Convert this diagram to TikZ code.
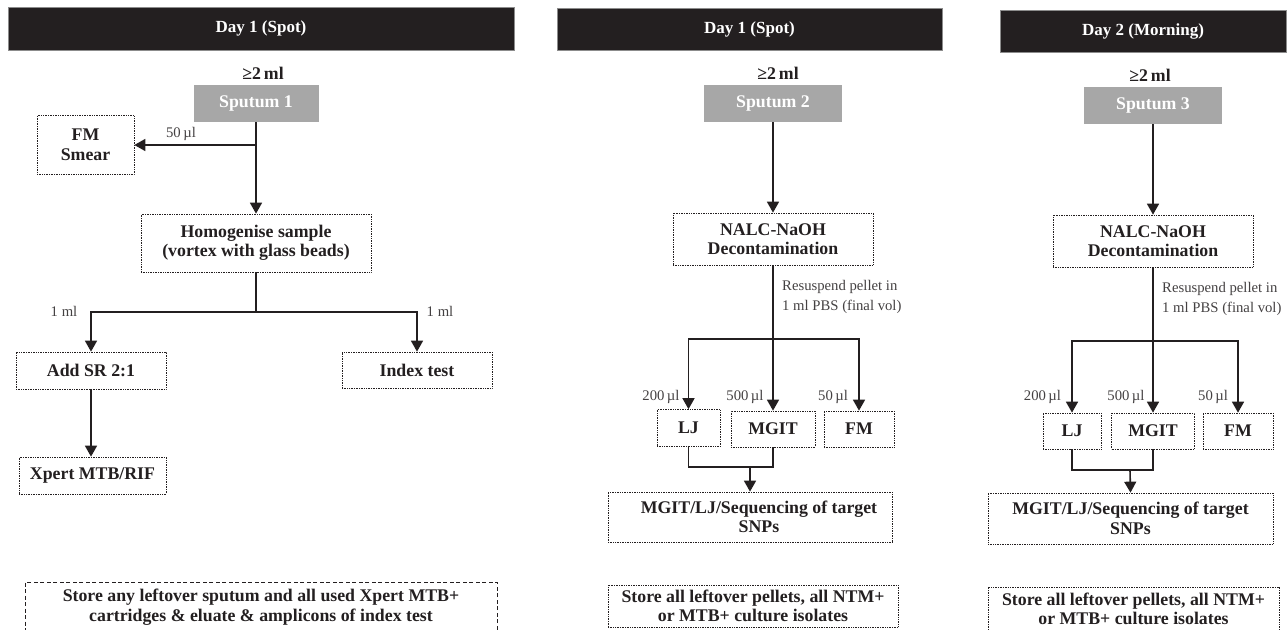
\documentclass[tikz,border=0pt]{standalone}
\usepackage{fontspec}
\setmainfont{Liberation Serif}
\usetikzlibrary{arrows.meta}
\definecolor{hdrcol}{HTML}{231F20}
\definecolor{sputcol}{HTML}{A7A7A7}
\definecolor{inkcol}{HTML}{231F20}
\newcommand\bxfont{\fontsize{17.8}{19.5}\selectfont\bfseries}
\newcommand\hdfont{\fontsize{17}{19}\selectfont\bfseries}
\newcommand\lbfont{\fontsize{14.7}{19.5}\selectfont}
\begin{document}
\begin{tikzpicture}[x=1pt,y=-1pt,
  box/.style={draw=inkcol, densely dotted, line width=0.7pt, align=center, font=\bxfont, text=inkcol, inner sep=0pt},
  dbox/.style={draw=inkcol, dash pattern=on 4pt off 2.5pt, line width=1pt, align=center, font=\bxfont, text=inkcol, inner sep=0pt},
  hdr/.style={fill=hdrcol, draw=black!45, line width=0.5pt, text=white, font=\hdfont, inner sep=0pt},
  sput/.style={fill=sputcol, text=white, font=\bxfont, inner sep=0pt},
  vol/.style={font=\bxfont, text=inkcol, inner sep=0pt},
  lbl/.style={font=\lbfont, text=inkcol!85, inner sep=0pt},
  conn/.style={draw=inkcol, line width=1.6pt},
  arr/.style={conn, -{Triangle[width=12pt,length=11pt]}}
]
\useasboundingbox (0,0) rectangle (1287,629);
\clip (0,0) rectangle (1287,629);

% ---------------- Panel 1 ----------------
\node[hdr, minimum width=506pt, minimum height=43pt] (h1) at (261,28.5) {Day 1 (Spot)};
\node[vol] (ge1) at (263,73) {≥2\,ml};
\node[sput, minimum width=125pt, minimum height=37pt] (sp1) at (256,103.5) {Sputum 1};
\node[box, minimum width=97pt, minimum height=59pt] (fm1) at (85.5,145) {FM\\Smear};
\node[box, minimum width=230pt, minimum height=58pt] (hom) at (256,243) {Homogenise sample\\(vortex with glass beads)};
\node[box, minimum width=150pt, minimum height=37pt] (add) at (91,370.5) {Add SR 2:1};
\node[box, minimum width=150pt, minimum height=36pt] (idx) at (417,370) {Index test};
\node[box, minimum width=147pt, minimum height=37pt] (xp) at (92.5,475.5) {Xpert MTB/RIF};
\node[dbox, minimum width=472pt, minimum height=50pt] (st1) at (261,607) {Store any leftover sputum and all used Xpert MTB+\\cartridges \& eluate \& amplicons of index test};

\coordinate (j1) at (256,145);
\coordinate (s1) at (256,312);
\draw[arr] (sp1) -- (hom);
\draw[arr] (j1) -- (fm1.east);
\draw[conn] (hom.south) -- (s1);
\draw[arr] (s1) -| (add.north);
\draw[arr] (s1) -| (idx.north);
\draw[arr] (add.south) -- (add.south |- xp.north);
\node[lbl] (l50a) at (181,134) {50\,µl};
\node[lbl] (l1a) at (64,311) {1 ml};
\node[lbl] (l1b) at (440,311) {1 ml};

% ---------------- Panel 2 ----------------
\node[hdr, minimum width=385pt, minimum height=42pt] (h2) at (749.5,29) {Day 1 (Spot)};
\node[vol] (ge2) at (778,73) {≥2\,ml};
\node[sput, minimum width=138pt, minimum height=37pt] (sp2) at (773,103.5) {Sputum 2};
\node[box, minimum width=200pt, minimum height=52pt] (na2) at (773,239) {NALC-NaOH\\Decontamination};
\node[lbl, anchor=west, align=left] (rs2) at (782,297) {Resuspend pellet in\\1 ml PBS (final vol)};
\node[box, minimum width=63pt, minimum height=37pt] (lj2) at (688.5,428) {LJ};
\node[box, minimum width=84pt, minimum height=36pt] (mg2) at (773,429) {MGIT};
\node[box, minimum width=70pt, minimum height=36pt] (fm2) at (859,429) {FM};
\node[box, minimum width=284pt, minimum height=50pt] (sq2) at (750,517) {\hspace*{18pt}MGIT/LJ/Sequencing of target\\\hspace*{18pt}SNPs};
\node[box, minimum width=290pt, minimum height=42pt] (st2) at (753,606) {Store all leftover pellets, all NTM+\\or MTB+ culture isolates};

\coordinate (s2) at (773,339);
\coordinate (m2) at (750,467);
\draw[arr] (sp2) -- (na2);
\draw[conn] (na2.south) -- (s2);
\draw[arr] (s2) -| (lj2.north);
\draw[arr] (s2) -- (mg2.north);
\draw[arr] (s2) -| (fm2.north);
\draw[conn] (lj2.south) |- (mg2.south |- m2) -- (mg2.south);
\draw[arr] (m2) -- (sq2.north);
\node[lbl] (l200b) at (661,397) {200\,µl};
\node[lbl] (l500b) at (745,397) {500\,µl};
\node[lbl] (l50b) at (833,397) {50\,µl};

% ---------------- Panel 3 ----------------
\node[hdr, minimum width=286pt, minimum height=42pt] (h3) at (1143,31) {Day 2 (Morning)};
\node[vol] (ge3) at (1150,75) {≥2\,ml};
\node[sput, minimum width=138pt, minimum height=37pt] (sp3) at (1153,105.5) {Sputum 3};
\node[box, minimum width=200pt, minimum height=52pt] (na3) at (1153,241) {NALC-NaOH\\Decontamination};
\node[lbl, anchor=west, align=left] (rs3) at (1162,299) {Resuspend pellet in\\1 ml PBS (final vol)};
\node[box, minimum width=58pt, minimum height=36pt] (lj3) at (1072,431) {LJ};
\node[box, minimum width=83pt, minimum height=36pt] (mg3) at (1153,431) {MGIT};
\node[box, minimum width=70pt, minimum height=36pt] (fm3) at (1238,431) {FM};
\node[box, minimum width=285pt, minimum height=51pt] (sq3) at (1130.5,518.5) {MGIT/LJ/Sequencing of target\\SNPs};
\node[box, minimum width=291pt, minimum height=44pt] (st3) at (1133.5,609) {Store all leftover pellets, all NTM+\\or MTB+ culture isolates};

\coordinate (s3) at (1153,341);
\coordinate (m3) at (1130,470);
\draw[arr] (sp3) -- (na3);
\draw[conn] (na3.south) -- (s3);
\draw[arr] (s3) -| (lj3.north);
\draw[arr] (s3) -- (mg3.north);
\draw[arr] (s3) -| (fm3.north);
\draw[conn] (lj3.south) |- (mg3.south |- m3) -- (mg3.south);
\draw[arr] (m3) -- (sq3.north);
\node[lbl] (l200c) at (1042.5,397) {200\,µl};
\node[lbl] (l500c) at (1126,397) {500\,µl};
\node[lbl] (l50c) at (1213,397) {50\,µl};
\end{tikzpicture}
\end{document}
